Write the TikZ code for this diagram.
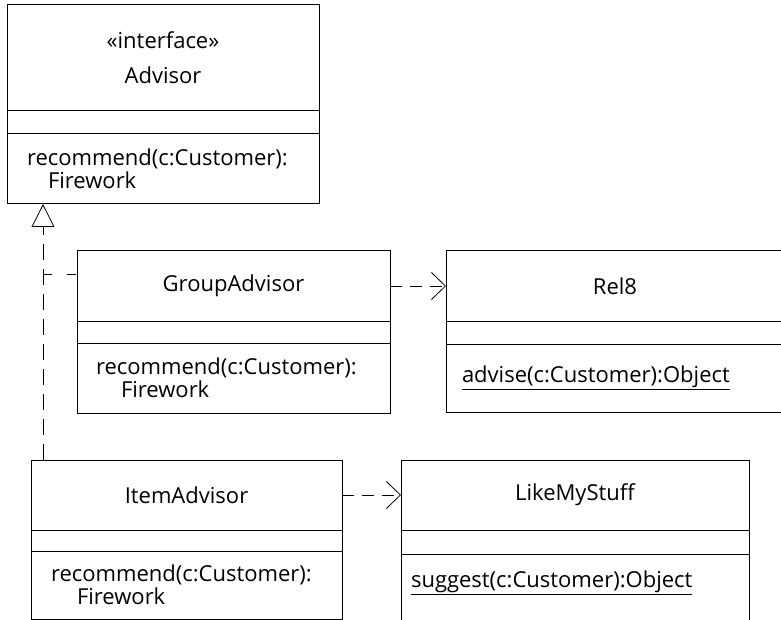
\documentclass[tikz,border=0pt]{standalone}
\usepackage{fontspec}
\setmainfont{Open Sans}
\usetikzlibrary{arrows.meta,positioning,calc}

\begin{document}
\begin{tikzpicture}[x=1pt,y=-1pt,
  font=\fontsize{22}{23}\selectfont,
  box/.style={draw,line width=1pt,inner sep=0pt,outer sep=0pt},
  ctitle/.style={box,anchor=north west,align=center},
  cattr/.style={box,below=0pt of #1,minimum height=22pt},
  cops/.style={box,below=0pt of #1,minimum height=70pt,align=left},
  dep/.style={line width=0.8pt,dash pattern=on 12pt off 8pt,-{Straight Barb[length=14pt,width=27pt]}},
  realize/.style={line width=0.8pt,dash pattern=on 16pt off 9pt,-{Triangle[open,length=23pt,width=23pt]}}]
\useasboundingbox (0,0) rectangle (781,620);
\clip (0,0) rectangle (781,620);
% Advisor
\node[ctitle,text width=312pt,minimum height=106pt] (advisor) at (7,5) {«interface»\\[12pt]Advisor};
\node[cattr=advisor,text width=312pt,minimum height=23pt] (advisorattr) {};
\node[cops=advisorattr,text width=292pt,inner xsep=10pt] (advisorops) {\hspace*{10pt}recommend(c:Customer):\\\hspace*{31pt}Firework};
% GroupAdvisor
\node[ctitle,text width=313pt,minimum height=70pt] (group) at (77,251) {GroupAdvisor};
\node[cattr=group,text width=313pt] (groupattr) {};
\node[cops=groupattr,text width=313pt] (groupops) {\hspace*{19pt}recommend(c:Customer):\\\hspace*{44pt}Firework};
% Rel8
\node[ctitle,text width=338pt,minimum height=70pt] (rel) at (446,251) {Rel8};
\node[cattr=rel,text width=338pt,minimum height=23pt] (relattr) {};
\node[cops=relattr,text width=338pt,minimum height=68pt] (relops) {\hspace*{16pt}\underline{advise(c:Customer):Object}};
% ItemAdvisor
\node[ctitle,text width=311pt,minimum height=70pt] (item) at (31,460) {ItemAdvisor};
\node[cattr=item,text width=311pt,minimum height=21pt] (itemattr) {};
\node[cops=itemattr,text width=311pt,minimum height=68pt] (itemops) {\hspace*{20pt}recommend(c:Customer):\\\hspace*{46pt}Firework};
% LikeMyStuff
\node[ctitle,text width=348pt,minimum height=70pt] (like) at (401,460) {LikeMyStuff};
\node[cattr=like,text width=348pt,minimum height=24pt] (likeattr) {};
\node[cops=likeattr,text width=348pt,minimum height=80pt,text depth=30pt] (likeops) {\hspace*{10pt}\underline{suggest(c:Customer):Object}};
% connectors
\coordinate (ijoin) at ($(item.north west)+(12,0)$);
\coordinate (gjoin) at ($(group.west)+(0,-12)$);
\draw[realize] (ijoin) -- (ijoin |- advisorops.south);
\draw[line width=0.8pt,dash pattern=on 9pt off 15pt] (gjoin -| ijoin) -- (gjoin);
\draw[dep] (group.east) -- (rel.west);
\draw[dep] (item.east) -- (like.west);
\end{tikzpicture}
\end{document}
